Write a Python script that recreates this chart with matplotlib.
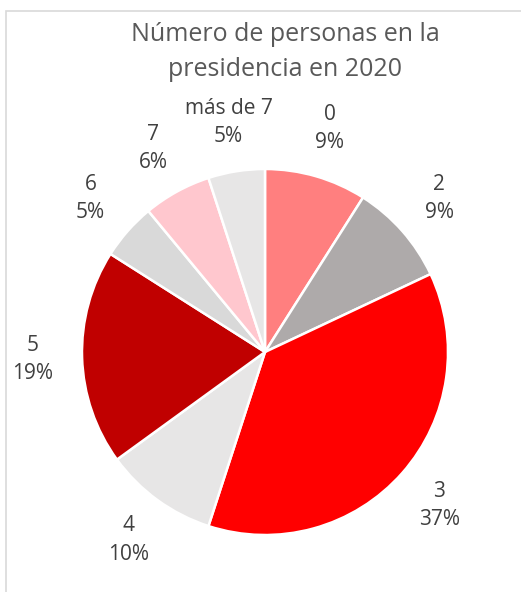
import matplotlib.pyplot as plt
from matplotlib.patches import Rectangle

# Number of people in the presidency, 2020
categories = ['0', '2', '3', '4', '5', '6', '7', 'más de 7']
shares = [9, 9, 37, 10, 19, 5, 6, 5]
colors = ['#FF7F7F', '#AEAAAA', '#FF0000', '#E7E6E6', '#C00000', '#D9D9D9', '#FFC7CE', '#E7E6E6']

plt.rcParams['font.family'] = ['Open Sans', 'DejaVu Sans']

fig = plt.figure(figsize=(5.21, 5.92), dpi=100)

# light grey chart frame, cut off at right and bottom like the screenshot
fig.patches.append(Rectangle((6 / 521, -0.05), 1.1, 1 - 11 / 592 + 0.05,
                             transform=fig.transFigure, fill=False,
                             edgecolor='#D9D9D9', linewidth=1.2))

ax = fig.add_axes([(265 - 183) / 521, (592 - 352 - 183) / 592, 366 / 521, 366 / 592])

labels = [f'{c}\n{s}%' for c, s in zip(categories, shares)]
wedges, texts = ax.pie(shares, colors=colors, labels=labels, startangle=90,
                       counterclock=False, labeldistance=1.27,
                       wedgeprops=dict(edgecolor='white', linewidth=1.8),
                       textprops=dict(fontsize=15, color='#404040', linespacing=1.45))
for t in texts:
    t.set_ha('center')
    t.set_va('center')

ax.set_xlim(-1, 1)
ax.set_ylim(-1, 1)
ax.set_aspect('equal')

fig.text(285 / 521, 1 - 52 / 592, 'Número de personas en la\npresidencia en 2020',
         ha='center', va='center', fontsize=18, color='#595959', linespacing=1.5)

fig.savefig('out.png', dpi=100)
